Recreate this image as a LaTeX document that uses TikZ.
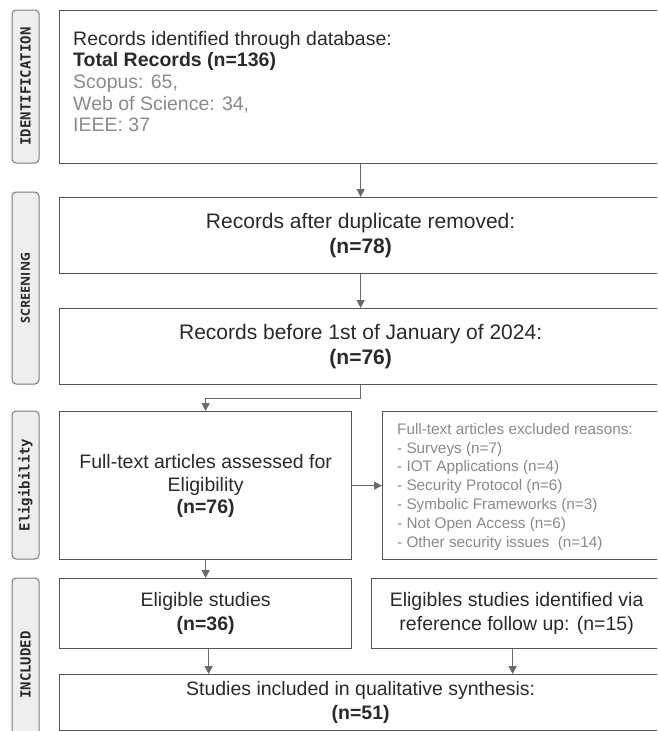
\documentclass[tikz,border=0pt]{standalone}
\usepackage{fontspec}
\setmainfont{Liberation Sans}
\newfontfamily\monofont{DejaVu Sans Mono}
\newfontfamily\phsans{Open Sans}
\usetikzlibrary{positioning,arrows.meta}
\definecolor{edgegray}{HTML}{555555}
\definecolor{flowgray}{HTML}{6A6A6A}
\definecolor{phasefill}{HTML}{EEEEEE}
\definecolor{phaseedge}{HTML}{7A7A7A}
\definecolor{softtext}{HTML}{8A8A8A}
\definecolor{darktext}{HTML}{2A2A2A}
\begin{document}
\begin{tikzpicture}[x=1pt, y=-1pt,
    box/.style={draw=edgegray, line width=1.3pt, fill=white, inner sep=0pt, align=center,
      text=darktext, font=\fontsize{19.5}{23.5}\selectfont},
    bigbox/.style={box, font=\fontsize{21}{25}\selectfont},
    phase/.style={draw=phaseedge, fill=phasefill, rounded corners=4pt, line width=1pt,
      rotate=90, minimum height=27pt, inner sep=0pt, text=darktext,
      font=\monofont\bfseries\fontsize{14}{14}\selectfont},
    flow/.style={draw=flowgray, line width=1.2pt, -{Triangle[length=8pt, width=8pt]}}]
    \useasboundingbox (0,0) rectangle (657,731);
    \clip (0,0) rectangle (657,731);
    % phase labels on the left
    \node[phase, minimum width=153pt] (idlab) at (25.5,86.5) {IDENTIFICATION};
    \node[phase, minimum width=192pt, font=\phsans\bfseries\fontsize{12.5}{12.5}\selectfont] (sclab) at (25.5,288) {SCREENING};
    \node[phase, minimum width=148pt] (ellab) at (25.5,485) {Eligibility};
    \node[phase, minimum width=174pt] (inlab) at (25.5,665) {INCLUDED};
    % boxes
    \node[box, anchor=north west, minimum width=602pt, minimum height=153pt] (ident) at (59,10) {};
    \node[anchor=north west, align=left, inner sep=0pt, text=darktext,
      font=\fontsize{19.5}{21.6}\selectfont] (identtxt) at (73,31)
      {Records identified through database:\\
       \textbf{Total Records (n=136)}\\
       \textcolor{softtext}{Scopus: 65,}\\
       \textcolor{softtext}{Web of Science: 34,}\\
       \textcolor{softtext}{IEEE: 37}};
    \node[bigbox, anchor=north west, minimum width=602pt, minimum height=76pt] (dup) at (59,197)
      {Records after duplicate removed:\\ \textbf{(n=78)}};
    \node[bigbox, anchor=north west, minimum width=602pt, minimum height=76pt] (date) at (59,308)
      {Records before 1st of January of 2024:\\ \textbf{(n=76)}};
    \node[box, anchor=north west, minimum width=292pt, minimum height=148pt] (assess) at (59,411)
      {Full-text articles assessed for\\ Eligibility\\[-2pt] \textbf{(n=76)}};
    \node[box, anchor=north west, minimum width=279pt, minimum height=148pt] (excl) at (382,411) {};
    \node[anchor=north west, align=left, inner sep=0pt, text=softtext,
      font=\fontsize{15.3}{18.8}\selectfont] (excltxt) at (397,423)
      {Full-text articles excluded reasons:\\
       - Surveys (n=7)\\
       - IOT Applications (n=4)\\
       - Security Protocol (n=6)\\
       - Symbolic Frameworks (n=3)\\
       - Not Open Access (n=6)\\
       - Other security issues~~(n=14)};
    \node[box, anchor=north west, minimum width=292pt, minimum height=70pt] (elig) at (59,578)
      {Eligible studies\\ \textbf{(n=36)}};
    \node[box, anchor=north west, minimum width=290pt, minimum height=70pt] (refs) at (371,578)
      {Eligibles studies identified via\\ reference follow up: (n=15)};
    \node[box, anchor=north west, minimum width=602pt, minimum height=56pt] (incl) at (59,674)
      {Studies included in qualitative synthesis:\\ \textbf{(n=51)}};
    % connectors
    \draw[flow] (ident.south) -- (dup.north);
    \draw[flow] (dup.south) -- (date.north);
    \draw[flow] (date.south) -- ++(0,13) -| (assess.north);
    \draw[flow] (assess.east) -- (excl.west);
    \draw[flow] (assess.south) -- (elig.north);
    \draw[flow] ([xshift=3pt]elig.south) -- ([xshift=3pt]elig.south |- incl.north);
    \draw[flow] ([xshift=-4pt]refs.south) -- ([xshift=-4pt]refs.south |- incl.north);
\end{tikzpicture}
\end{document}
